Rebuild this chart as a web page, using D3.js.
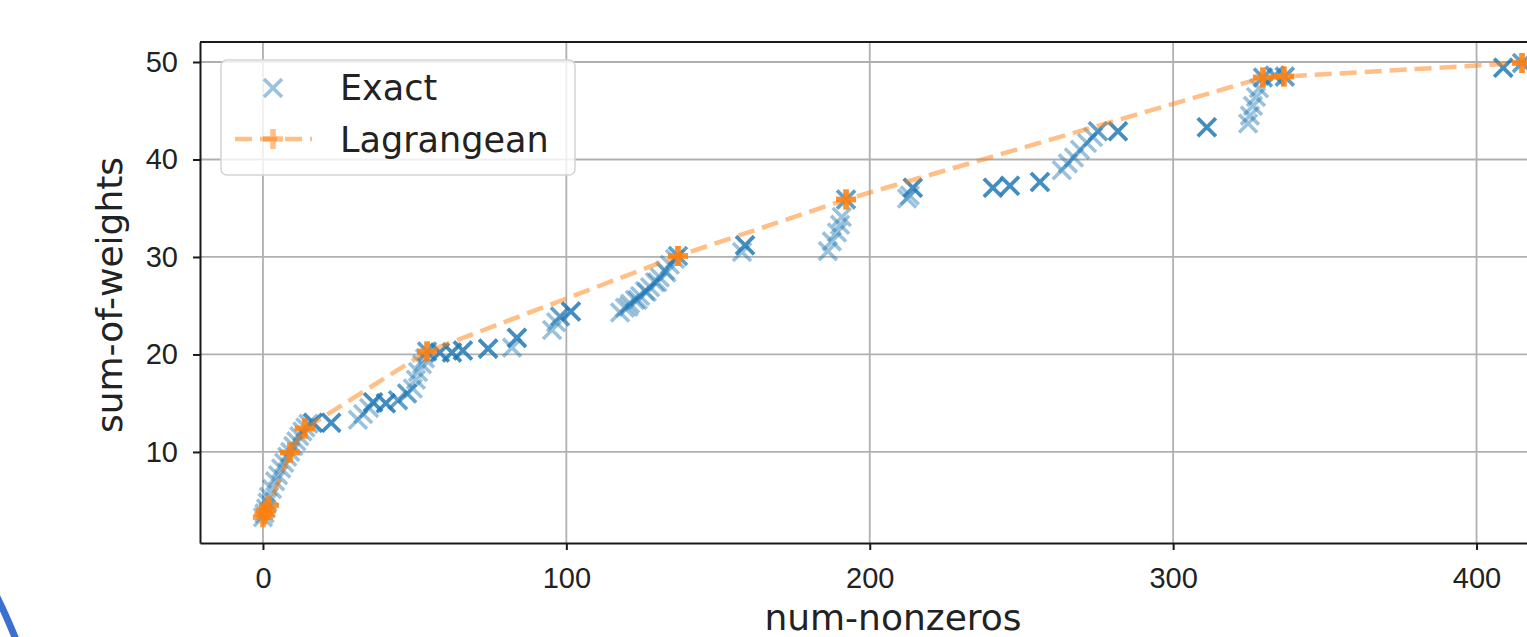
<!DOCTYPE html>
<html lang="en">
<head>
<meta charset="UTF-8">
<title>Exact vs Lagrangean</title>
<script src="https://d3js.org/d3.v7.min.js"></script>
<style>
    body {
        margin: 0;
        padding: 0;
        background: #fff;
    }
    svg {
        display: block;
        font-family: "DejaVu Sans", sans-serif;
    }
    .grid line {
        stroke: #b0b0b0;
        stroke-width: 1.8px;
    }
    .axis path, .axis line, .spine {
        stroke: #1a1a1a;
        stroke-width: 2px;
    }
    .axis text {
        font-size: 29px;
        fill: #222;
    }
    .label {
        font-size: 36px;
        fill: #222;
    }
</style>
</head>
<body>
<div id="chart"></div>
<script>
    // Exact: (num-nonzeros, sum-of-weights); repeated entries are stacked points
    const exactX = [
        0, 0.5, 1, 1.5, 2, 3, 4, 5, 6, 7, 8, 9, 10, 11, 12, 13, 14, 15,
        16.5, 16.5, 16.5, 22.5, 22.5, 22.5,
        31.3, 33, 35,
        36.3, 36.3, 36.3, 40.5, 40.5, 40.5, 44.5, 44.5, 47.5, 47.5,
        49.4, 50.4, 51.1, 52.4, 53.4, 54.1, 54.1,
        58.3, 58.3, 58.3, 62.3, 62.3, 62.3, 65.9, 65.9, 65.9, 74.2, 74.2, 74.2,
        82.1, 83.7, 83.7, 83.7,
        95.3, 96.6, 97.9, 97.9, 101.5, 101.5, 101.5,
        117.7, 119.3, 120.5, 121, 122.6, 123.5, 124.3, 125.9, 126.5, 127.6,
        129.2, 130, 130.8, 132.5, 133, 134.1, 135.8, 136.8, 136.8,
        157.9, 158.9, 158.9, 158.9,
        186.2, 187.5, 189.2, 190.2, 190.8, 192.2, 192.2,
        212.3, 213.2, 214.2, 214.2, 214.2,
        240.6, 240.6, 240.6, 246.2, 246.2, 246.2, 256.1, 256.1, 256.1,
        263.3, 265.3, 267.3, 269.3, 271.6, 273.6, 275.2, 275.2, 281.8, 281.8, 281.8,
        311.1, 311.1, 311.1,
        324.7, 325.3, 326.3, 327.3, 328.3, 329.6, 329.6, 333.5, 333.5, 336.8, 336.8,
        408.8, 408.8, 408.8, 415, 415
    ];
    const exactY = [
        3.3, 3.7, 4.2, 4.8, 5.4, 6.2, 7.0, 7.6, 8.3, 8.9, 9.5, 10.0, 10.6, 11.1, 11.6, 12.1, 12.5, 12.9,
        13.0, 13.0, 13.0, 13.0, 13.0, 13.0,
        13.3, 13.9, 14.5,
        15.1, 15.1, 15.1, 15.0, 15.0, 15.0, 15.3, 15.3, 16.0, 16.0,
        16.5, 17.4, 18.2, 19.0, 19.6, 20.3, 20.3,
        20.2, 20.2, 20.2, 20.2, 20.2, 20.2, 20.4, 20.4, 20.4, 20.6, 20.6, 20.6,
        20.7, 21.7, 21.7, 21.7,
        22.5, 23.3, 23.9, 23.9, 24.4, 24.4, 24.4,
        24.3, 24.8, 24.9, 25.2, 25.6, 25.6, 26.0, 26.5, 26.4, 26.9,
        27.4, 27.4, 27.9, 28.6, 28.4, 29.2, 29.8, 30.1, 30.1,
        30.5, 31.2, 31.2, 31.2,
        30.6, 31.6, 32.5, 33.3, 34.1, 35.9, 35.9,
        36.0, 36.3, 37.1, 37.1, 37.1,
        37.1, 37.1, 37.1, 37.3, 37.3, 37.3, 37.7, 37.7, 37.7,
        38.9, 39.6, 40.2, 41.0, 41.7, 42.3, 42.9, 42.9, 42.9, 42.9, 42.9,
        43.3, 43.3, 43.3,
        43.7, 44.5, 45.5, 46.4, 47.3, 48.4, 48.4, 48.6, 48.6, 48.5, 48.5,
        49.4, 49.4, 49.4, 49.9, 49.9
    ];

    // Lagrangean
    const lagX = [0, 0, 0.5, 0.5, 1, 1, 2, 2, 8.9, 8.9, 8.9, 13.8, 13.8, 13.8,
                  54.1, 54.1, 54.1, 136.8, 136.8, 136.8, 192.2, 192.2, 192.2,
                  329.6, 329.6, 329.6, 336.5, 336.5, 336.5, 415, 415, 415];
    const lagY = [3.3, 3.3, 3.6, 3.6, 4.0, 4.0, 4.5, 4.5, 9.95, 9.95, 9.95, 12.4, 12.4, 12.4,
                  20.3, 20.3, 20.3, 30.1, 30.1, 30.1, 35.9, 35.9, 35.9,
                  48.4, 48.4, 48.4, 48.5, 48.5, 48.5, 49.9, 49.9, 49.9];

    const xTicks = [0, 100, 200, 300, 400];
    const yTicks = [10, 20, 30, 40, 50];

    const width = 1527, height = 637;
    const blue = "#1f77b4", orange = "#ff7f0e";

    const svg = d3.select("#chart").append("svg")
        .attr("width", width)
        .attr("height", height);

    const x = d3.scaleLinear().domain([-20.75, 435.75]).range([200, 1585]);
    const y = d3.scaleLinear().domain([0.66, 52.05]).range([543, 42]);

    const crossPath = s => `M${-s},${-s}L${s},${s}M${-s},${s}L${s},${-s}`;
    const plusPath = s => `M${-s},0H${s}M0,${-s}V${s}`;

    // grid
    const grid = svg.append("g").attr("class", "grid");
    grid.selectAll(".vx").data(xTicks).enter().append("line")
        .attr("x1", d => x(d)).attr("x2", d => x(d))
        .attr("y1", y.range()[0]).attr("y2", y.range()[1]);
    grid.selectAll(".hy").data(yTicks).enter().append("line")
        .attr("x1", x.range()[0]).attr("x2", x.range()[1])
        .attr("y1", d => y(d)).attr("y2", d => y(d));

    // exact points
    const exact = exactX.map((v, i) => [v, exactY[i]]);
    svg.append("g").selectAll("path").data(exact).enter().append("path")
        .attr("transform", d => `translate(${x(d[0])},${y(d[1])})`)
        .attr("d", crossPath(9))
        .attr("fill", "none")
        .attr("stroke", blue)
        .attr("stroke-width", 3.6)
        .attr("stroke-opacity", 0.45);

    // lagrangean line + markers
    const lag = lagX.map((v, i) => [v, lagY[i]]);
    svg.append("path")
        .datum(lag)
        .attr("d", d3.line().x(d => x(d[0])).y(d => y(d[1])))
        .attr("fill", "none")
        .attr("stroke", orange)
        .attr("stroke-opacity", 0.5)
        .attr("stroke-width", 4.5)
        .attr("stroke-dasharray", "17,8");
    svg.append("g").selectAll("path").data(lag).enter().append("path")
        .attr("transform", d => `translate(${x(d[0])},${y(d[1])})`)
        .attr("d", plusPath(10))
        .attr("fill", "none")
        .attr("stroke", orange)
        .attr("stroke-width", 5.5)
        .attr("stroke-opacity", 0.5);

    // axes
    const xAxis = svg.append("g").attr("class", "axis")
        .attr("transform", `translate(0,${y.range()[0]})`)
        .call(d3.axisBottom(x).tickValues(xTicks).tickSize(7).tickSizeOuter(0)
            .tickFormat(d3.format("d")));
    xAxis.selectAll("text").attr("y", 45).attr("dy", 0);

    svg.append("g").attr("class", "axis")
        .attr("transform", `translate(${x.range()[0]},0)`)
        .call(d3.axisLeft(y).tickValues(yTicks).tickSize(7).tickSizeOuter(0)
            .tickPadding(15).tickFormat(d3.format("d")));

    svg.selectAll(".axis .domain").attr("stroke", "#1a1a1a");

    svg.append("line").attr("class", "spine")
        .attr("x1", x.range()[0]).attr("x2", x.range()[1])
        .attr("y1", y.range()[1]).attr("y2", y.range()[1]);
    svg.append("line").attr("class", "spine")
        .attr("x1", x.range()[1]).attr("x2", x.range()[1])
        .attr("y1", y.range()[0]).attr("y2", y.range()[1]);

    // axis labels
    svg.append("text").attr("class", "label")
        .attr("x", 893).attr("y", 630)
        .attr("text-anchor", "middle")
        .text("num-nonzeros");
    svg.append("text").attr("class", "label")
        .attr("transform", "translate(122,295) rotate(-90)")
        .attr("text-anchor", "middle")
        .text("sum-of-weights");

    // legend
    const legend = svg.append("g");
    legend.append("rect")
        .attr("x", 221).attr("y", 60).attr("width", 354).attr("height", 115)
        .attr("rx", 6)
        .attr("fill", "#fff").attr("fill-opacity", 0.8)
        .attr("stroke", "#d3d3d3").attr("stroke-width", 1.5);
    legend.append("path")
        .attr("transform", "translate(273,88)")
        .attr("d", crossPath(9))
        .attr("fill", "none").attr("stroke", blue)
        .attr("stroke-width", 3.6).attr("stroke-opacity", 0.45);
    legend.append("line")
        .attr("x1", 235).attr("x2", 312).attr("y1", 139).attr("y2", 139)
        .attr("stroke", orange).attr("stroke-opacity", 0.5)
        .attr("stroke-width", 4.5).attr("stroke-dasharray", "17,8");
    legend.append("path")
        .attr("transform", "translate(273,139)")
        .attr("d", plusPath(10))
        .attr("fill", "none").attr("stroke", orange)
        .attr("stroke-width", 5.5).attr("stroke-opacity", 0.5);
    legend.selectAll("text").data(["Exact", "Lagrangean"]).enter().append("text")
        .attr("class", "label")
        .attr("x", 340)
        .attr("y", (d, i) => 100 + i * 52)
        .style("font-size", "35px")
        .text(d => d);

    // blue edge in the lower-left corner of the screenshot
    svg.append("path")
        .attr("d", "M-3,597Q6,615 17,642")
        .attr("fill", "none")
        .attr("stroke", "#3b6fd0")
        .attr("stroke-width", 7);
</script>
</body>
</html>
